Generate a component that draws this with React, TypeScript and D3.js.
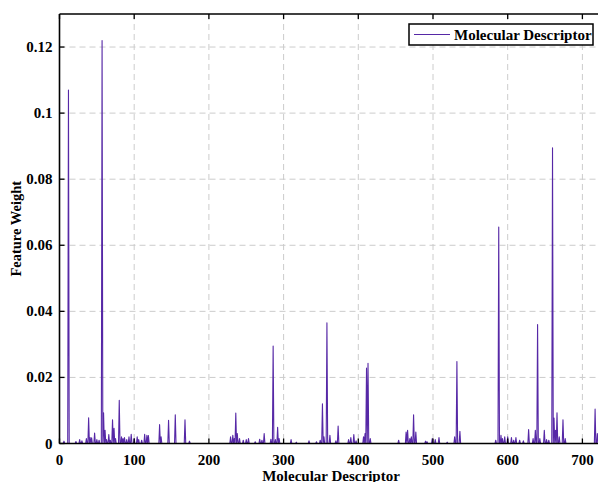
import React from "react";
import * as d3 from "d3";

// non-zero feature weights: [descriptor index, weight]
const peakIndex = [
  6, 12, 22, 27, 30, 36, 39, 41, 43, 47, 50, 53, 57, 59, 61, 63, 66, 68, 71, 73, 75, 80, 83, 85, 87, 90, 93, 96,
  100, 104, 106, 110, 114, 117, 119, 134, 136, 146, 155, 168, 174, 229, 232, 234, 236, 238, 241, 246, 250, 253,
  262, 268, 271, 274, 283, 286, 289, 292, 294, 310, 317, 334, 344, 349, 352, 354, 358, 362, 370, 373, 387, 390,
  394, 397, 407, 409, 411, 413, 416, 454, 464, 466, 469, 471, 474, 477, 490, 492, 499, 503, 508, 519, 529, 532,
  536, 584, 588, 591, 593, 596, 600, 605, 608, 611, 616, 621, 628, 634, 637, 640, 643, 649, 652, 655, 660, 662,
  664, 666, 669, 674, 677, 717, 720, 723,
];
const peakWeight = [
  0.0007, 0.107, 0.0006, 0.0012, 0.0008, 0.0015, 0.0078, 0.0018, 0.0017, 0.0032, 0.0012, 0.001, 0.122, 0.0093,
  0.004, 0.0012, 0.0027, 0.001, 0.0072, 0.0046, 0.0015, 0.0131, 0.002, 0.0015, 0.0018, 0.0012, 0.002, 0.0028,
  0.0015, 0.002, 0.0012, 0.001, 0.0028, 0.0025, 0.0024, 0.0057, 0.002, 0.007, 0.0087, 0.0072, 0.0007, 0.002,
  0.0025, 0.0015, 0.0092, 0.003, 0.0015, 0.001, 0.0012, 0.0015, 0.0005, 0.0013, 0.001, 0.003, 0.0013, 0.0295,
  0.0012, 0.0049, 0.0015, 0.0012, 0.0004, 0.0008, 0.0005, 0.001, 0.012, 0.002, 0.0365, 0.0025, 0.0008, 0.0053,
  0.0012, 0.0018, 0.0027, 0.0008, 0.002, 0.003, 0.0228, 0.0243, 0.0015, 0.001, 0.0035, 0.004, 0.0015, 0.002,
  0.0087, 0.0035, 0.0007, 0.0005, 0.0015, 0.0012, 0.0018, 0.0004, 0.002, 0.0248, 0.0037, 0.001, 0.0655, 0.0025,
  0.0015, 0.002, 0.002, 0.0018, 0.001, 0.0018, 0.001, 0.0008, 0.0042, 0.0015, 0.004, 0.036, 0.0015, 0.004,
  0.0012, 0.001, 0.0895, 0.0077, 0.004, 0.0093, 0.002, 0.0072, 0.0015, 0.0104, 0.003, 0.002,
];
const descriptorCount = 728;
const xTicks = [0, 100, 200, 300, 400, 500, 600, 700];
const yTicks = [0, 0.02, 0.04, 0.06, 0.08, 0.1, 0.12];

const W = 598, H = 482;
const margin = { left: 59.5, top: 14, bottom: 443.5 };
const font = "'Liberation Serif', 'Times New Roman', serif";
const purple = "#5628a6";

export default function App() {
  // everything not listed sits on the zero baseline
  const weights: number[] = new Array(descriptorCount).fill(0);
  peakIndex.forEach((k, i) => { weights[k] = peakWeight[i]; });

  const x = d3.scaleLinear().domain([0, 750]).range([margin.left, margin.left + 7.47 * 75]);
  const y = d3.scaleLinear().domain([0, 0.13]).range([margin.bottom, margin.top]);
  const line = d3.line<number>().x((_, i) => x(i)).y(d => y(d));
  const right = x(750);

  return (
    <svg width={W} height={H} style={{ position: "absolute", left: 0, top: 0, background: "#fff" }}
      fontFamily={font} fontWeight="bold">
      {/* grid */}
      {xTicks.slice(1).map(t => (
        <line key={"gx" + t} x1={x(t)} x2={x(t)} y1={margin.top} y2={margin.bottom}
          stroke="#cccccc" strokeDasharray="6,4" />
      ))}
      {yTicks.slice(1).map(t => (
        <line key={"gy" + t} x1={margin.left} x2={right} y1={y(t)} y2={y(t)}
          stroke="#cccccc" strokeDasharray="6,4" />
      ))}

      <path d={line(weights) || ""} fill="none" stroke={purple} strokeWidth={1.1} strokeLinejoin="round" />

      {/* axes frame */}
      <line x1={margin.left} x2={right} y1={margin.top} y2={margin.top} stroke="#000" strokeWidth={1.6} />
      <line x1={margin.left} x2={right} y1={margin.bottom} y2={margin.bottom} stroke="#000" strokeWidth={1.6} />
      <line x1={margin.left} x2={margin.left} y1={margin.top} y2={margin.bottom} stroke="#000" strokeWidth={1.6} />

      {xTicks.map(t => (
        <g key={"tx" + t}>
          <line x1={x(t)} x2={x(t)} y1={margin.bottom} y2={margin.bottom - 5} stroke="#000" strokeWidth={1.3} />
          <line x1={x(t)} x2={x(t)} y1={margin.top} y2={margin.top + 5} stroke="#000" strokeWidth={1.3} />
          <text x={x(t)} y={464.5} textAnchor="middle" fontSize={15}>{t}</text>
        </g>
      ))}
      {yTicks.map(t => (
        <g key={"ty" + t}>
          <line x1={margin.left} x2={margin.left + 5} y1={y(t)} y2={y(t)} stroke="#000" strokeWidth={1.3} />
          <text x={52.5} y={y(t) + 5} textAnchor="end" fontSize={15}>{d3.format("~g")(t)}</text>
        </g>
      ))}

      <text x={331} y={480.5} textAnchor="middle" fontSize={15}>Molecular Descriptor</text>
      <text transform={`translate(21,${(margin.top + margin.bottom) / 2}) rotate(-90)`} textAnchor="middle" fontSize={14.5}>
        Feature Weight
      </text>

      {/* legend */}
      <rect x={409} y={24} width={184} height={21} fill="#fff" stroke="#000" strokeWidth={1.5} />
      <line x1={414} x2={450} y1={34.5} y2={34.5} stroke={purple} strokeWidth={1.1} />
      <text x={454} y={40} fontSize={15}>Molecular Descriptor</text>
    </svg>
  );
}
